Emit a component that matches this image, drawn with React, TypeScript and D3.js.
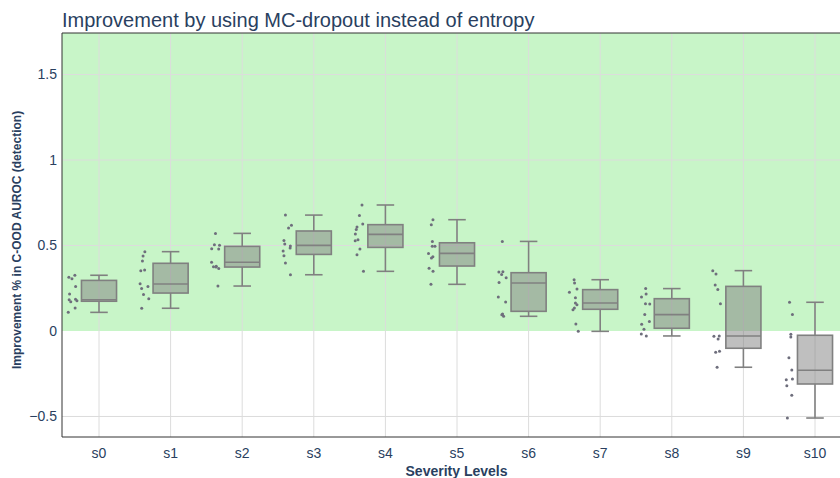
import React from 'react';
import * as d3 from 'd3';

const categories = ['s0', 's1', 's2', 's3', 's4', 's5', 's6', 's7', 's8', 's9', 's10'];
const whiskerHigh = [0.326, 0.464, 0.571, 0.678, 0.737, 0.651, 0.524, 0.3, 0.248, 0.353, 0.168];
const q3 = [0.296, 0.396, 0.495, 0.585, 0.622, 0.516, 0.341, 0.242, 0.189, 0.261, -0.025];
const median = [0.183, 0.275, 0.402, 0.501, 0.565, 0.454, 0.281, 0.164, 0.096, -0.029, -0.23];
const q1 = [0.174, 0.222, 0.374, 0.448, 0.489, 0.38, 0.115, 0.127, 0.016, -0.101, -0.31];
const whiskerLow = [0.109, 0.133, 0.263, 0.329, 0.349, 0.273, 0.086, -0.002, -0.029, -0.212, -0.509];

const pointsS0 = [0.326, 0.314, 0.306, 0.261, 0.216, 0.185, 0.183, 0.177, 0.171, 0.134, 0.109];
const pointsS1 = [0.464, 0.439, 0.409, 0.357, 0.353, 0.277, 0.261, 0.249, 0.214, 0.189, 0.133];
const pointsS2 = [0.571, 0.505, 0.501, 0.481, 0.48, 0.402, 0.378, 0.376, 0.374, 0.366, 0.263];
const pointsS3 = [0.678, 0.618, 0.602, 0.53, 0.509, 0.497, 0.485, 0.468, 0.44, 0.398, 0.329];
const pointsS4 = [0.737, 0.676, 0.626, 0.608, 0.593, 0.567, 0.534, 0.528, 0.48, 0.446, 0.349];
const pointsS5 = [0.651, 0.622, 0.524, 0.495, 0.495, 0.454, 0.435, 0.427, 0.367, 0.349, 0.273];
const pointsS6 = [0.524, 0.347, 0.345, 0.331, 0.312, 0.283, 0.199, 0.17, 0.099, 0.095, 0.086];
const pointsS7 = [0.3, 0.281, 0.246, 0.226, 0.195, 0.164, 0.154, 0.134, 0.125, 0.041, -0.002];
const pointsS8 = [0.248, 0.216, 0.199, 0.16, 0.158, 0.096, 0.055, 0.039, 0.01, -0.018, -0.029];
const pointsS9 = [0.353, 0.333, 0.269, 0.242, 0.16, -0.029, -0.031, -0.047, -0.119, -0.125, -0.212];
const pointsS10 = [0.168, 0.096, -0.019, -0.035, -0.156, -0.228, -0.281, -0.285, -0.32, -0.376, -0.509];
const allPoints = [pointsS0, pointsS1, pointsS2, pointsS3, pointsS4, pointsS5, pointsS6, pointsS7, pointsS8, pointsS9, pointsS10];

const yTicks = [-0.5, 0, 0.5, 1, 1.5];
const yDomain = [-0.62, 1.743];

const W = 840;
const H = 478;
const plotLeft = 62;
const plotRight = 851;
const plotTop = 33;
const plotBottom = 437;

const FONT = '"Liberation Sans", Arial, Helvetica, sans-serif';
const TEXT = '#2a3f5f';

function fmt(v: number) {
  return v < 0 ? '\u2212' + String(Math.abs(v)) : String(v);
}

function jitter(i: number, j: number) {
  const s = Math.sin((i + 1) * 12.9898 + (j + 1) * 78.233) * 43758.5453;
  return (s - Math.floor(s)) * 2 - 1;
}

export default function App() {
  const x = d3.scalePoint<string>().domain(categories).range([99, 815]).padding(0);
  const y = d3.scaleLinear().domain(yDomain).range([plotBottom, plotTop]);
  const step = x.step();
  const half = step * 0.245;
  const capHalf = half * 0.5;
  const lineColor = '#808080';

  return (
    <svg width={W} height={H} style={{ position: 'absolute', left: 0, top: 0, display: 'block' }} fontFamily={FONT}>
      <defs>
        <clipPath id="plot">
          <rect x={plotLeft} y={plotTop} width={plotRight - plotLeft} height={plotBottom - plotTop} />
        </clipPath>
      </defs>
      <rect x={0} y={0} width={W} height={H} fill="#ffffff" />
      <g clipPath="url(#plot)">
        <rect x={plotLeft} y={y(yDomain[1])} width={plotRight - plotLeft} height={y(0) - y(yDomain[1])} fill="#c8f5c8" />
        {categories.map((c) => (
          <line key={'gx' + c} x1={x(c)} x2={x(c)} y1={plotTop} y2={plotBottom} stroke="#dcdcdc" strokeWidth={1} />
        ))}
        {yTicks.filter((t) => t !== 0).map((t) => (
          <line key={'gy' + t} x1={plotLeft} x2={plotRight} y1={y(t)} y2={y(t)} stroke="#dcdcdc" strokeWidth={1} />
        ))}
        {categories.map((c, i) => {
          const cx = x(c) as number;
          return (
            <g key={'box' + c}>
              <line x1={cx} x2={cx} y1={y(q3[i])} y2={y(whiskerHigh[i])} stroke={lineColor} strokeWidth={1.6} />
              <line x1={cx} x2={cx} y1={y(q1[i])} y2={y(whiskerLow[i])} stroke={lineColor} strokeWidth={1.6} />
              <line x1={cx - capHalf} x2={cx + capHalf} y1={y(whiskerHigh[i])} y2={y(whiskerHigh[i])} stroke={lineColor} strokeWidth={1.6} />
              <line x1={cx - capHalf} x2={cx + capHalf} y1={y(whiskerLow[i])} y2={y(whiskerLow[i])} stroke={lineColor} strokeWidth={1.6} />
              <rect x={cx - half} y={y(q3[i])} width={half * 2} height={y(q1[i]) - y(q3[i])} fill="rgba(128,128,128,0.5)" stroke={lineColor} strokeWidth={1.6} />
              <line x1={cx - half} x2={cx + half} y1={y(median[i])} y2={y(median[i])} stroke={lineColor} strokeWidth={1.6} />
              {allPoints[i].map((v, j) => (
                <circle key={j} cx={cx - 1.5 * half + jitter(i, j) * 4.5} cy={y(v)} r={1.5} fill="#6e6e7c" />
              ))}
            </g>
          );
        })}
      </g>
      <line x1={plotLeft} x2={plotLeft} y1={plotTop} y2={plotBottom} stroke="#333" strokeWidth={1} />
      <line x1={plotLeft} x2={plotRight} y1={plotBottom} y2={plotBottom} stroke="#333" strokeWidth={1} />
      <line x1={plotLeft} x2={plotRight} y1={plotTop} y2={plotTop} stroke="#333" strokeWidth={1} />
      {yTicks.map((t) => (
        <text key={'yt' + t} x={57} y={y(t)} dy="0.35em" textAnchor="end" fontSize={14} fill={TEXT}>
          {fmt(t)}
        </text>
      ))}
      {categories.map((c) => (
        <text key={'xt' + c} x={x(c)} y={458} textAnchor="middle" fontSize={14} fill={TEXT}>
          {c}
        </text>
      ))}
      <text x={62} y={27} fontSize={20} fill={TEXT}>
        Improvement by using MC-dropout instead of entropy
      </text>
      <text x={(plotLeft + plotRight) / 2} y={476} textAnchor="middle" fontSize={14} fontWeight="bold" fill={TEXT}>
        Severity Levels
      </text>
      <text transform={`translate(21,${(plotTop + plotBottom) / 2 + 5}) rotate(-90)`} textAnchor="middle" fontSize={12} fontWeight="bold" fill={TEXT}>
        Improvement % in C-OOD AUROC (detection)
      </text>
    </svg>
  );
}
